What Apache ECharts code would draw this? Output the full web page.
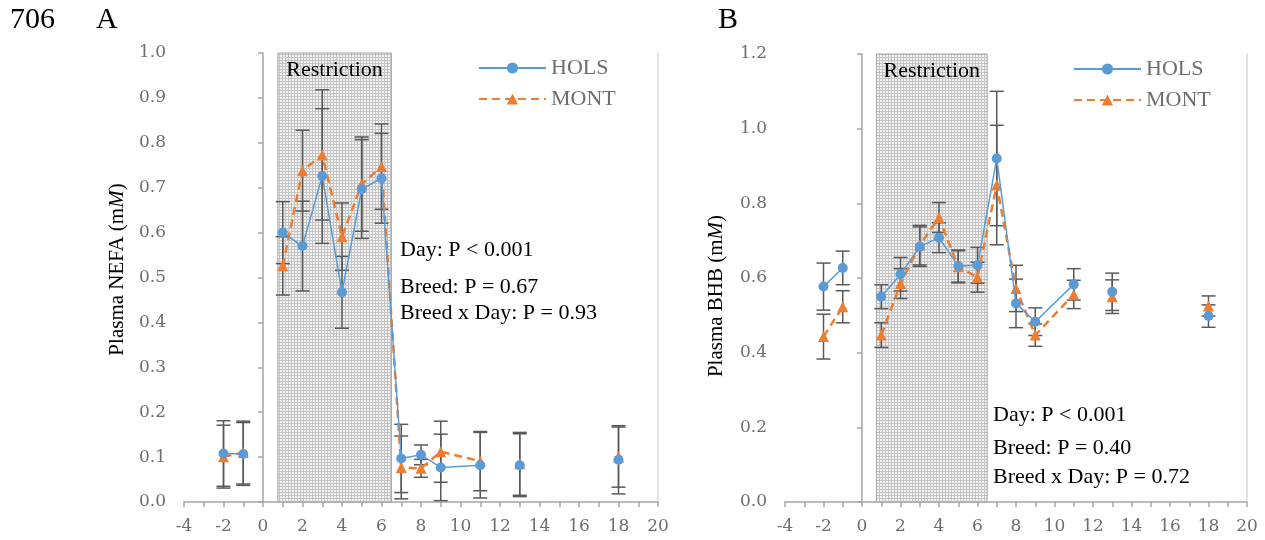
<!DOCTYPE html>
<html>
<head>
<meta charset="utf-8">
<script src="https://cdn.jsdelivr.net/npm/echarts@6/dist/echarts.min.js"></script>
<style>
  html, body { margin: 0; padding: 0; background: #fff; }
  #chart { width: 1265px; height: 540px; }
</style>
</head>
<body>
<div id="chart"></div>
<script>
// sampling days relative to start of feed restriction
const days = [-2, -1, 1, 2, 3, 4, 5, 6, 7, 8, 9, 11, 13, 18]
const breakAfter = [-1, 11, 13] // lines are not joined across these gaps
const restrictionStart = 0.75
const restrictionEnd = 6.5

// Panel A: plasma NEFA (mM)
const holsNefa   = [0.108, 0.107, 0.600, 0.570, 0.726, 0.467, 0.697, 0.721, 0.097, 0.105, 0.077, 0.082, 0.082, 0.094]
const holsNefaSE = [0.073, 0.070, 0.069, 0.100, 0.150, 0.080, 0.110, 0.100, 0.076, 0.022, 0.074, 0.073, 0.070, 0.076]
const montNefa   = [0.101, 0.110, 0.526, 0.738, 0.773, 0.591, 0.708, 0.747, 0.077, 0.075, 0.112, 0.091, 0.085, 0.100]
const montNefaSE = [0.070, 0.070, 0.065, 0.090, 0.145, 0.075, 0.105, 0.095, 0.070, 0.020, 0.068, 0.066, 0.070, 0.067]

// Panel B: plasma BHB (mM)
const holsBhb   = [0.577, 0.627, 0.550, 0.610, 0.684, 0.708, 0.632, 0.634, 0.920, 0.532, 0.483, 0.583, 0.563, 0.498]
const holsBhbSE = [0.063, 0.045, 0.032, 0.045, 0.053, 0.040, 0.043, 0.048, 0.180, 0.065, 0.037, 0.042, 0.050, 0.030]
const montBhb   = [0.443, 0.523, 0.447, 0.585, 0.688, 0.762, 0.630, 0.602, 0.849, 0.572, 0.447, 0.556, 0.550, 0.525]
const montBhbSE = [0.060, 0.043, 0.033, 0.040, 0.053, 0.040, 0.043, 0.040, 0.160, 0.062, 0.030, 0.038, 0.045, 0.027]

const statsA = ['Day: P < 0.001', 'Breed: P = 0.67', 'Breed x Day: P = 0.93']
const statsB = ['Day: P < 0.001', 'Breed: P = 0.40', 'Breed x Day: P = 0.72']

const SERIF = '"Liberation Serif", "Times New Roman", serif'
const TICK_FONT = '"DejaVu Serif", serif'
const BLUE = '#5b9bd5'
const ORANGE = '#ed7d31'
const AXIS = '#a6a6a6'

// dotted fill for the restriction period
function makePattern() {
  const c = document.createElement('canvas')
  c.width = 3; c.height = 3
  const ctx = c.getContext('2d')
  ctx.fillStyle = '#f2f2f2'
  ctx.fillRect(0, 0, 3, 3)
  ctx.fillStyle = '#c4c4c4'
  ctx.fillRect(0, 0, 3, 1)
  ctx.fillRect(0, 0, 1, 3)
  return c
}
const pattern = makePattern()

function lineData(vals) {
  const out = []
  days.forEach((d, i) => {
    out.push([d, vals[i]])
    if (breakAfter.includes(d)) out.push([d + 0.5, '-'])
  })
  return out
}

function errData(vals, se) {
  return days.map((d, i) => [d, vals[i], se[i]])
}

function errorBar(params, api) {
  const x = api.value(0), m = api.value(1), s = api.value(2)
  const hi = api.coord([x, m + s])
  const lo = api.coord([x, m - s])
  const w = 7
  const style = { stroke: '#595959', lineWidth: 1.5 }
  return {
    type: 'group',
    children: [
      { type: 'line', shape: { x1: hi[0], y1: hi[1], x2: lo[0], y2: lo[1] }, style },
      { type: 'line', shape: { x1: hi[0] - w, y1: hi[1], x2: hi[0] + w, y2: hi[1] }, style },
      { type: 'line', shape: { x1: lo[0] - w, y1: lo[1], x2: lo[0] + w, y2: lo[1] }, style }
    ]
  }
}

function panelSeries(idx, yMax, hols, holsSE, mont, montSE) {
  const axes = { xAxisIndex: idx, yAxisIndex: idx * 2 }
  return [
    {
      type: 'line', ...axes, data: [], z: 0, silent: true,
      markArea: {
        silent: true,
        itemStyle: { color: { image: pattern, repeat: 'repeat' }, borderColor: '#a6a6a6', borderWidth: 1 },
        label: { show: true, position: 'insideTop', distance: 7, color: '#000', fontFamily: SERIF, fontSize: 22 },
        data: [[{ name: 'Restriction', xAxis: restrictionStart, yAxis: 0 }, { xAxis: restrictionEnd, yAxis: yMax }]]
      }
    },
    { type: 'custom', ...axes, renderItem: errorBar, data: errData(hols, holsSE), encode: { x: 0, y: 1 }, z: 1, silent: true },
    { type: 'custom', ...axes, renderItem: errorBar, data: errData(mont, montSE), encode: { x: 0, y: 1 }, z: 1, silent: true },
    {
      name: 'HOLS', type: 'line', ...axes, data: lineData(hols), z: 3,
      symbol: 'circle', symbolSize: 10, connectNulls: false,
      lineStyle: { color: BLUE, width: 1.5 }, itemStyle: { color: BLUE }
    },
    {
      name: 'MONT', type: 'line', ...axes, data: lineData(mont), z: 2,
      symbol: 'triangle', symbolSize: 11, connectNulls: false,
      lineStyle: { color: ORANGE, width: 2.5, type: [8, 5] }, itemStyle: { color: ORANGE }
    }
  ]
}

function xAxis(idx) {
  return {
    type: 'value', gridIndex: idx, min: -4, max: 20, interval: 2,
    axisLine: { onZero: false, lineStyle: { color: AXIS, width: 1.5 } },
    axisTick: { length: 5, lineStyle: { color: AXIS, width: 1.5 } },
    minorTick: { show: true, splitNumber: 2, length: 5, lineStyle: { color: AXIS, width: 1.5 } },
    splitLine: { show: false },
    axisLabel: { color: '#6e6e6e', fontFamily: TICK_FONT, fontSize: 17, margin: 16 }
  }
}

// pad shifts the rotated axis name along the axis (left pad = up, right pad = down)
function yAxes(idx, max, interval, name, gap, pad) {
  return [
    {
      type: 'value', gridIndex: idx, min: 0, max, interval,
      name, nameLocation: 'middle', nameGap: gap, nameRotate: 90,
      nameTextStyle: {
        color: '#000', fontFamily: SERIF, fontSize: 21, padding: pad,
        rich: { i: { fontStyle: 'italic', fontFamily: SERIF, fontSize: 21, color: '#000' } }
      },
      axisLine: { show: true, lineStyle: { color: AXIS, width: 1.5 } },
      axisTick: { show: true, length: 5, lineStyle: { color: AXIS, width: 1.5 } },
      splitLine: { show: false },
      axisLabel: { color: '#6e6e6e', fontFamily: TICK_FONT, fontSize: 17, margin: 18, formatter: v => v.toFixed(1) }
    },
    {
      type: 'value', gridIndex: idx, min: 0, max, position: 'right',
      axisLine: { show: true, lineStyle: { color: '#d9d9d9', width: 1.5 } },
      axisTick: { show: false }, axisLabel: { show: false }, splitLine: { show: false }
    }
  ]
}

function legend(left, top) {
  return {
    data: ['HOLS', 'MONT'], left, top, orient: 'vertical',
    itemWidth: 67, itemHeight: 14, itemGap: 9,
    textStyle: { color: '#6e6e6e', fontFamily: SERIF, fontSize: 22 }
  }
}

function statText(lines, left, centers) {
  return lines.map((t, i) => ({
    type: 'text', left, top: centers[i] - 11,
    style: { text: t, fill: '#000', font: '22px ' + SERIF }
  }))
}

const chart = echarts.init(document.getElementById('chart'))
chart.setOption({
  animation: false,
  textStyle: { fontFamily: SERIF },
  grid: [
    { left: 184, right: 607, top: 53, bottom: 38 },
    { left: 785, right: 18, top: 54, bottom: 38 }
  ],
  xAxis: [xAxis(0), xAxis(1)],
  yAxis: [
    ...yAxes(0, 1.0, 0.1, 'Plasma NEFA (m{i|M})', 56, [0, 0, 0, 16]),
    ...yAxes(1, 1.2, 0.2, 'Plasma BHB (m{i|M})', 58, [0, 36, 0, 0])
  ],
  legend: [legend(473, 52), legend(1068, 53)],
  series: [
    ...panelSeries(0, 1.0, holsNefa, holsNefaSE, montNefa, montNefaSE),
    ...panelSeries(1, 1.2, holsBhb, holsBhbSE, montBhb, montBhbSE)
  ],
  graphic: [
    { type: 'text', left: 10, top: 5, style: { text: '706', fill: '#000', font: '30px ' + SERIF } },
    { type: 'text', left: 96, top: 5, style: { text: 'A', fill: '#000', font: '30px ' + SERIF } },
    { type: 'text', left: 718, top: 5, style: { text: 'B', fill: '#000', font: '30px ' + SERIF } },
    ...statText(statsA, 400, [250, 287, 313]),
    ...statText(statsB, 993, [415, 448, 477])
  ]
})
</script>
</body>
</html>
